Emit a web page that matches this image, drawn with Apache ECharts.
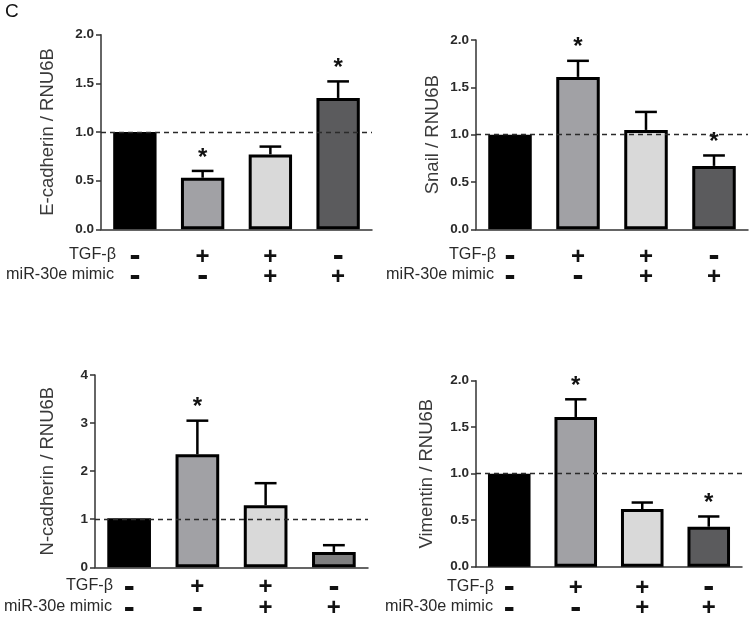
<!DOCTYPE html>
<html><head><meta charset="utf-8">
<script src="https://cdn.jsdelivr.net/npm/echarts@6/dist/echarts.min.js"></script>
<style>html,body{margin:0;padding:0;background:#fff}#c{width:753px;height:617px}</style>
</head><body><div id="c"></div>
<script>
// ---- data ----
const tgfSigns   = ['-', '+', '+', '-'];
const mimicSigns = ['-', '-', '+', '+'];
const groups = ['ctrl', 'TGF', 'TGF+mimic', 'mimic'];

const eCadMean  = [1.00, 0.53, 0.77, 1.35];
const eCadErr   = [null, 0.60, 0.85, 1.52];
const eCadStar  = [false, true, false, true];

const snailMean = [1.00, 1.61, 1.05, 0.67];
const snailErr  = [null, 1.78, 1.24, 0.78];
const snailStar = [false, true, false, true];

const nCadMean  = [1.02, 2.35, 1.29, 0.32];
const nCadErr   = [null, 3.05, 1.75, 0.46];
const nCadStar  = [false, true, false, false];

const vimMean   = [1.00, 1.61, 0.62, 0.43];
const vimErr    = [null, 1.80, 0.69, 0.54];
const vimStar   = [false, true, false, true];

const yTicks02 = [0, 0.5, 1.0, 1.5, 2.0];
const yTicks04 = [0, 1, 2, 3, 4];

// ---- styling ----
const FONT = 'Liberation Sans, Arial, sans-serif';
const barColors = ['#000000', '#a1a1a5', '#d9d9d9', '#5b5b5d'];
const barColorsN = ['#000000', '#a1a1a5', '#d9d9d9', '#7f7f80'];

const panels = [
  {name: 'E-cadherin / RNU6B', mean: eCadMean, err: eCadErr, star: eCadStar, ticks: yTicks02, colors: barColors,
   grid: {left: 101, top: 34.7, width: 271, height: 194.6}, nameGap: 44, labMargin: 18, labLH: 20,
   rowRight: [116, 114], rowY: [255, 275]},
  {name: 'Snail / RNU6B', mean: snailMean, err: snailErr, star: snailStar, ticks: yTicks02, colors: barColors,
   grid: {left: 476, top: 40, width: 272, height: 189.3}, nameGap: 34, labMargin: 18, labLH: 20,
   rowRight: [496, 494], rowY: [255, 275]},
  {name: 'N-cadherin / RNU6B', mean: nCadMean, err: nCadErr, star: nCadStar, ticks: yTicks04, colors: barColorsN,
   grid: {left: 95, top: 375, width: 273, height: 192.3}, nameGap: 38, labMargin: 10, labLH: 21,
   rowRight: [113, 112], rowY: [586, 607]},
  {name: 'Vimentin / RNU6B', mean: vimMean, err: vimErr, star: vimStar, ticks: yTicks02, colors: barColors,
   grid: {left: 476, top: 380.7, width: 266, height: 186}, nameGap: 40, labMargin: 11, labLH: 20.5,
   rowRight: [494, 493], rowY: [587, 607]}
];

const grid = [], xAxis = [], yAxis = [], series = [], graphic = [];
graphic.push({type: 'text', left: 5, top: 2, style: {text: 'C', font: '19px ' + FONT, fill: '#111'}});

panels.forEach((p, i) => {
  grid.push(Object.assign({containLabel: false, outerBoundsMode: 'none'}, p.grid));
  xAxis.push({
    type: 'category', gridIndex: i, data: groups, boundaryGap: true,
    axisLine: {lineStyle: {color: '#333', width: 1.5}},
    axisTick: {alignWithLabel: true, length: 5, lineStyle: {color: '#333', width: 1.5}},
    axisLabel: {
      margin: p.labMargin, interval: 0, hideOverlap: false,
      formatter: (v, idx) => {
        const s = (c) => c === '+' ? '{p|+}' : '{m|-}';
        return s(tgfSigns[idx]) + '\n' + s(mimicSigns[idx]);
      },
      rich: {
        p: {fontFamily: FONT, fontWeight: 'bold', fontSize: 24, lineHeight: p.labLH, color: '#111'},
        m: {fontFamily: FONT, fontWeight: 'bold', fontSize: 33, lineHeight: p.labLH, color: '#111'}
      }
    }
  });
  const tmax = p.ticks[p.ticks.length - 1];
  yAxis.push({
    type: 'value', gridIndex: i, min: p.ticks[0], max: tmax, interval: p.ticks[1] - p.ticks[0],
    name: p.name, nameLocation: 'middle', nameGap: p.nameGap, nameRotate: 90,
    nameTextStyle: {fontFamily: FONT, fontSize: 18.5, color: '#3a3a3a'},
    splitLine: {show: false},
    axisLine: {show: true, lineStyle: {color: '#333', width: 1.5}},
    axisTick: {show: true, length: 5, lineStyle: {color: '#333', width: 1.5}},
    axisLabel: {margin: 7, fontFamily: FONT, fontWeight: 'bold', fontSize: 13.5, color: '#2a2a2a',
      formatter: v => tmax === 2 ? v.toFixed(1) : String(v)}
  });
  series.push({
    type: 'bar', xAxisIndex: i, yAxisIndex: i, barWidth: '64%',
    data: p.mean.map((v, k) => ({value: v, itemStyle: {color: p.colors[k], borderColor: '#000', borderWidth: 3}})),
    markLine: {
      silent: true, symbol: 'none', label: {show: false}, z: 10,
      lineStyle: {color: '#2a2a2a', type: [5, 4], width: 1.4},
      data: [{yAxis: 1}]
    },
    z: 2
  });
  series.push({
    type: 'custom', xAxisIndex: i, yAxisIndex: i, z: 5,
    data: p.mean.map((v, k) => [k, v, p.err[k] == null ? v : p.err[k], p.star[k] ? 1 : 0]),
    renderItem: (params, api) => {
      const k = api.value(0);
      const base = api.coord([k, api.value(1)]);
      const top = api.coord([k, api.value(2)]);
      const half = api.size([1, 0])[0] * 0.16;
      const children = [];
      if (api.value(2) > api.value(1)) {
        children.push({type: 'line', shape: {x1: base[0], y1: base[1], x2: top[0], y2: top[1]},
          style: {stroke: '#000', lineWidth: 2.5}});
        children.push({type: 'line', shape: {x1: top[0] - half, y1: top[1], x2: top[0] + half, y2: top[1]},
          style: {stroke: '#000', lineWidth: 2.5}});
      }
      if (api.value(3)) {
        children.push({type: 'text', x: top[0], y: top[1] - 13,
          style: {text: '*', font: 'bold 24px ' + FONT, fill: '#111', align: 'center', verticalAlign: 'middle'}});
      }
      return {type: 'group', children};
    }
  });
  graphic.push({type: 'text', x: p.rowRight[0], y: p.rowY[0], z: 10,
    style: {text: 'TGF-β', font: '16.2px ' + FONT, fill: '#2a2a2a', align: 'right', verticalAlign: 'middle'}});
  graphic.push({type: 'text', x: p.rowRight[1], y: p.rowY[1], z: 10,
    style: {text: 'miR-30e mimic', font: '16.2px ' + FONT, fill: '#2a2a2a', align: 'right', verticalAlign: 'middle'}});
});

const chart = echarts.init(document.getElementById('c'), null, {renderer: 'canvas'});
chart.setOption({animation: false, backgroundColor: '#fff', grid, xAxis, yAxis, series, graphic});
</script>
</body></html>
